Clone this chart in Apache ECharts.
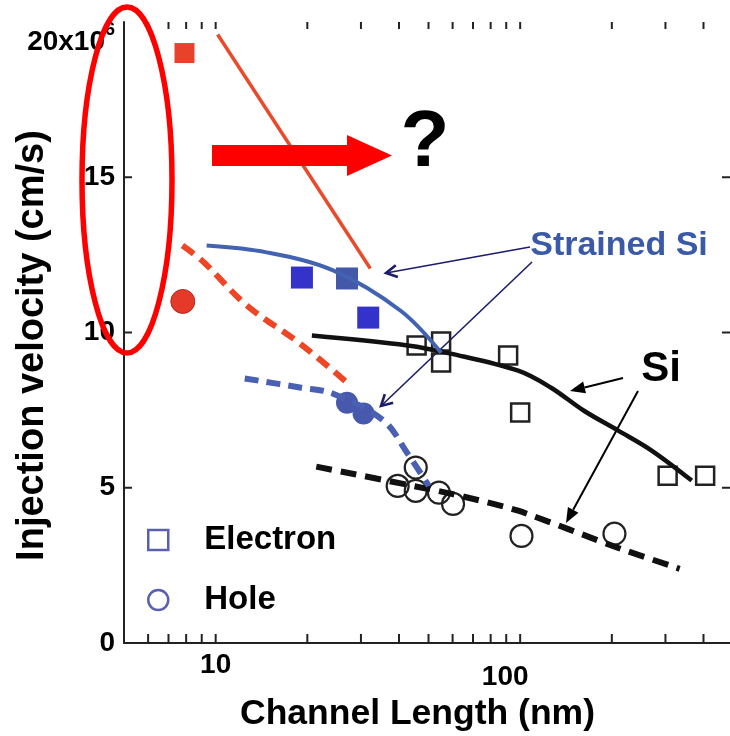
<!DOCTYPE html>
<html>
<head>
<meta charset="utf-8">
<script src="https://cdn.jsdelivr.net/npm/echarts@6/dist/echarts.min.js"></script>
<style>html,body{margin:0;padding:0;background:#fff}#c{width:730px;height:736px}</style>
</head>
<body>
<div id="c"></div>
<script>
// ---- data (x: channel length in nm, y: injection velocity in 1e6 cm/s) ----
const xTickLabels = [10, 100];
const xMinorTicks = [6, 7, 8, 9, 10, 20, 30, 40, 50, 60, 70, 80, 90, 100, 200, 300, 400];
const yTickValues = [5, 10, 15];

const redSolidLine = [[10.15, 19.6], [32.2, 12.06]];
const redDashedLine = [[7.78, 12.8], [9.06, 12.3], [12.66, 10.87], [18.9, 9.65], [27.0, 8.39]];
const redSquare = [[7.9, 19.0]];
const redCircle = [[7.8, 11.0]];

const blueSolidLine = [[9.34, 12.8], [14.7, 12.58], [24.3, 12.0], [40.5, 10.7], [55, 9.35]];
const blueSquares = [[19.2, 11.77], [27.0, 11.74], [31.7, 10.48]];
const blueDashedLine = [[12.46, 8.52], [18.9, 8.23], [24.3, 8.03], [35.6, 7.16], [42.7, 6.10], [50.1, 5.06]];
const blueCircles = [[27.0, 7.74], [30.6, 7.39]];

const siElectronLine = [[20.7, 9.90], [42.7, 9.58], [59.1, 9.32], [98.5, 8.77], [126, 8.23], [162, 7.48], [210, 6.84], [271, 6.19], [366, 5.23]];
const siElectronPoints = [[45.7, 9.58], [55.0, 9.71], [55.0, 9.03], [91.3, 9.26], [100, 7.42], [305, 5.39], [405, 5.39]];
const siHoleLine = [[21.4, 5.68], [59.1, 4.81], [98.5, 4.26], [210, 3.06], [334, 2.39]];
const siHolePoints = [[45.4, 5.65], [39.6, 5.06], [45.4, 4.90], [54.1, 4.84], [60.2, 4.48], [101, 3.45], [204, 3.52]];

// ---- chart ----
const FONT = '"Liberation Sans", Arial, Helvetica, sans-serif';
const chart = echarts.init(document.getElementById('c'), null, {renderer: 'canvas'});

function arrowHead(tip, from, len, halfW) {
  const dx = tip[0] - from[0], dy = tip[1] - from[1];
  const d = Math.sqrt(dx * dx + dy * dy);
  const ux = dx / d, uy = dy / d;
  const bx = tip[0] - ux * len, by = tip[1] - uy * len;
  const px = -uy, py = ux;
  return {pts: [[bx + px * halfW, by + py * halfW], tip, [bx - px * halfW, by - py * halfW]], base: [bx, by]};
}
function openArrow(from, tip, color) {
  const h = arrowHead(tip, from, 11, 6);
  return [
    {type: 'line', shape: {x1: from[0], y1: from[1], x2: tip[0], y2: tip[1]}, style: {stroke: color, lineWidth: 1.6}},
    {type: 'polyline', shape: {points: h.pts}, style: {stroke: color, lineWidth: 2.6, fill: null}}
  ];
}
function filledArrow(from, tip, color) {
  const h = arrowHead(tip, from, 15, 6);
  return [
    {type: 'line', shape: {x1: from[0], y1: from[1], x2: h.base[0], y2: h.base[1]}, style: {stroke: color, lineWidth: 2}},
    {type: 'polygon', shape: {points: h.pts}, style: {fill: color}}
  ];
}

function textEl(x, y, text, size, color) {
  return {type: 'text', x: x, y: y, z: 10, style: {
    text: text, fontSize: size, fontWeight: 'bold', fontFamily: FONT, fill: color,
    textAlign: 'center', textVerticalAlign: 'middle', align: 'center', verticalAlign: 'middle'}};
}

const lineBase = {type: 'line', showSymbol: false, symbol: 'none', smooth: 0.35, silent: true};

const option = {
  animation: false,
  backgroundColor: '#fff',
  grid: {left: 124, right: -3, top: 22, bottom: 93, containLabel: false, outerBoundsMode: 'none'},
  legend: {
    orient: 'vertical', left: 147, top: 522, padding: 0, itemGap: 24, itemWidth: 20, itemHeight: 20,
    selectedMode: false,
    textStyle: {fontSize: 33, fontWeight: 'bold', fontFamily: FONT, color: '#000', lineHeight: 36, padding: [0, 0, 0, 31]},
    data: [
      {name: 'Electron', icon: 'rect', itemStyle: {color: '#fff', borderColor: '#5a5fb0', borderWidth: 2.5}},
      {name: 'Hole', icon: 'circle', itemStyle: {color: '#fff', borderColor: '#5a5fb0', borderWidth: 2.5}}
    ]
  },
  xAxis: [{
    type: 'log', logBase: 10, min: 5, max: 500, position: 'bottom',
    axisLine: {show: true, lineStyle: {color: '#222', width: 2}},
    axisTick: {show: false}, minorTick: {show: false}, splitLine: {show: false},
    axisLabel: {
      margin: 8, color: '#000', fontSize: 28, fontWeight: 'bold', fontFamily: FONT,
      formatter: function (v) {
        if (Math.abs(v - xTickLabels[0]) < 1e-6) return '{a|' + xTickLabels[0] + '}';
        if (Math.abs(v - xTickLabels[1]) < 1e-6) return '{b|' + xTickLabels[1] + '}';
        return '';
      },
      rich: {
        a: {fontSize: 28, fontWeight: 'bold', fontFamily: FONT, color: '#000'},
        b: {fontSize: 28, fontWeight: 'bold', fontFamily: FONT, color: '#000', padding: [12, 30, 0, 0]}
      }
    },
    name: 'Channel Length (nm)', nameLocation: 'middle', nameGap: 53, nameMoveOverlap: false,
    nameTextStyle: {fontSize: 35.5, fontWeight: 'bold', fontFamily: FONT, color: '#000', padding: [0, 22, 0, 0]}
  }, {
    type: 'log', logBase: 10, min: 5, max: 500, position: 'top',
    axisLine: {show: true, lineStyle: {color: '#222', width: 2}},
    axisTick: {show: false}, axisLabel: {show: false}, splitLine: {show: false}
  }],
  yAxis: [{
    type: 'value', min: 0, max: 20, interval: 5,
    axisLine: {show: true, lineStyle: {color: '#222', width: 2}},
    axisTick: {show: false}, splitLine: {show: false},
    axisLabel: {
      margin: 9, color: '#000', fontSize: 28, fontWeight: 'bold', fontFamily: FONT,
      formatter: function (v) { return v === 20 ? '{t|20x10}{s|6}' : String(v); },
      rich: {
        t: {fontSize: 28, fontWeight: 'bold', fontFamily: FONT, color: '#000', padding: [40, 0, 0, 0]},
        s: {fontSize: 18, fontWeight: 'bold', fontFamily: FONT, color: '#000', verticalAlign: 'top', padding: [33, 0, 0, 0]}
      }
    },
    name: 'Injection velocity (cm/s)', nameLocation: 'middle', nameGap: 72, nameMoveOverlap: false,
    nameTextStyle: {fontSize: 38, fontWeight: 'bold', fontFamily: FONT, color: '#000', padding: [0, 26, 0, 0]}
  }, {
    type: 'value', min: 0, max: 20, interval: 5, position: 'right',
    axisLine: {show: true, lineStyle: {color: '#222', width: 2}},
    axisTick: {show: false}, axisLabel: {show: false}, splitLine: {show: false}
  }],
  series: [
    // axis ticks (inside), drawn through the axis scales
    {
      type: 'custom', silent: true, clip: false, z: 1,
      data: xMinorTicks.map(v => [v, 0]),
      encode: {x: 0, y: 1},
      renderItem: function (params, api) {
        const v = api.value(0);
        const b = api.coord([v, 0]);
        const t = api.coord([v, 20]);
        return {type: 'group', children: [
          {type: 'line', shape: {x1: b[0], y1: b[1], x2: b[0], y2: b[1] - 9}, style: {stroke: '#222', lineWidth: 2}},
          {type: 'line', shape: {x1: t[0], y1: t[1], x2: t[0], y2: t[1] + 7}, style: {stroke: '#222', lineWidth: 2}}
        ]};
      }
    },
    {
      type: 'custom', silent: true, clip: false, z: 1,
      data: yTickValues.map(v => [5, v]),
      encode: {x: 0, y: 1},
      renderItem: function (params, api) {
        const v = api.value(1);
        const l = api.coord([5, v]);
        const r = api.coord([500, v]);
        return {type: 'group', children: [
          {type: 'line', shape: {x1: l[0], y1: l[1], x2: l[0] + 8, y2: l[1]}, style: {stroke: '#222', lineWidth: 2}},
          {type: 'line', shape: {x1: r[0], y1: r[1], x2: r[0] - 11, y2: r[1]}, style: {stroke: '#222', lineWidth: 2}}
        ]};
      }
    },
    Object.assign({}, lineBase, {name: 'Strained Si electron (red)', data: redSolidLine, smooth: false,
      lineStyle: {color: '#ea4a2c', width: 3.5}}),
    Object.assign({}, lineBase, {name: 'Strained Si hole (red)', data: redDashedLine,
      lineStyle: {color: '#ee4524', width: 6, type: [14, 8]}}),
    {type: 'scatter', name: 'red square', data: redSquare, symbol: 'rect', symbolSize: 20,
      itemStyle: {color: '#e8422a', opacity: 1}},
    {type: 'scatter', name: 'red circle', data: redCircle, symbol: 'circle', symbolSize: 24,
      itemStyle: {color: '#e53a2a', borderColor: '#b02a1a', borderWidth: 1, opacity: 1}},
    Object.assign({}, lineBase, {name: 'Si electron', data: siElectronLine,
      lineStyle: {color: '#111', width: 4.5}}),
    Object.assign({}, lineBase, {name: 'Si hole', data: siHoleLine, smooth: 0.2,
      lineStyle: {color: '#111', width: 6, type: [16, 9]}}),
    {type: 'scatter', name: 'Electron', data: siElectronPoints, symbol: 'rect', symbolSize: 18,
      itemStyle: {color: 'rgba(255,255,255,0)', borderColor: '#222', borderWidth: 2.5, opacity: 1}},
    {type: 'scatter', name: 'Hole', data: siHolePoints, symbol: 'circle', symbolSize: 22,
      itemStyle: {color: 'rgba(255,255,255,0)', borderColor: '#222', borderWidth: 2.2, opacity: 1}},
    Object.assign({}, lineBase, {name: 'Strained Si electron', data: blueSolidLine,
      lineStyle: {color: '#4262b2', width: 4}}),
    Object.assign({}, lineBase, {name: 'Strained Si hole', data: blueDashedLine,
      lineStyle: {color: '#4a60b2', width: 6, type: [14, 8]}}),
    {type: 'scatter', name: 'blue squares', data: blueSquares, symbol: 'rect', symbolSize: 22,
      itemStyle: {color: function (p) { return p.dataIndex === 1 ? '#4358a8' : '#3333cc'; }, opacity: 1}},
    {type: 'scatter', name: 'blue circles', data: blueCircles, symbol: 'circle', symbolSize: 22,
      itemStyle: {color: '#4858ac', opacity: 1}}
  ],
  graphic: {elements: [].concat(
    [{type: 'ellipse', z: 20, shape: {cx: 127, cy: 180, rx: 45, ry: 173},
      style: {fill: null, stroke: '#ff0000', lineWidth: 5.5}}],
    [{type: 'polygon', z: 20, shape: {points: [[212, 145], [347, 145], [347, 135], [392, 155.5], [347, 176], [347, 166], [212, 166]]},
      style: {fill: '#ff0000'}}],
    [textEl(425, 144, '?', 80, '#000')],
    [textEl(619, 246, 'Strained Si', 34, '#3a5aa8')],
    openArrow([530, 247], [386, 273], '#1c1c6b'),
    openArrow([532, 262], [381, 406], '#1c1c6b'),
    [textEl(661, 369, 'Si', 42, '#000')],
    filledArrow([623, 378], [570, 391], '#000'),
    filledArrow([638, 391], [566, 523], '#000')
  )}
};
chart.setOption(option);
</script>
</body>
</html>
